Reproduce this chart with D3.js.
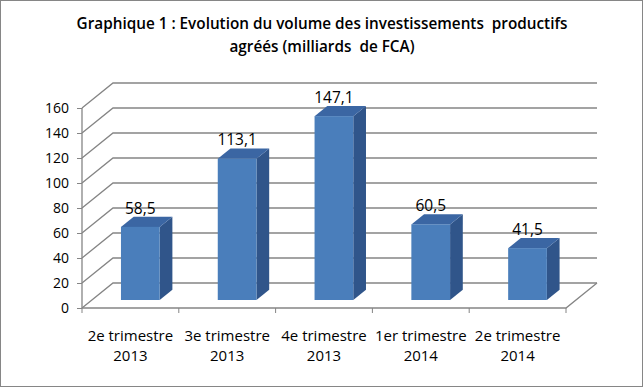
<!DOCTYPE html>
<html>
<head>
<meta charset="utf-8">
<script src="https://cdn.jsdelivr.net/npm/d3@7"></script>
<style>
  body { margin: 0; background: #fff; }
  text { font-family: "Open Sans", sans-serif; fill: #000; white-space: pre; }
</style>
</head>
<body>
<svg id="chart" width="644" height="388"></svg>
<script>
// data
var categories = [["2e trimestre", "2013"], ["3e trimestre", "2013"], ["4e trimestre", "2013"],
                  ["1er trimestre", "2014"], ["2e trimestre", "2014"]]
var values = [58.5, 113.1, 147.1, 60.5, 41.5]
var valueLabels = ["58,5", "113,1", "147,1", "60,5", "41,5"]
var yTicks = [0, 20, 40, 60, 80, 100, 120, 140, 160]
var titleLines = ["Graphique 1 : Evolution du volume des investissements  productifs",
                  "agréés (milliards  de FCA)"]

var svg = d3.select("#chart")

// outer border
svg.append("rect")
    .attr("x", 0.5).attr("y", 0.5)
    .attr("width", 642).attr("height", 386)
    .attr("fill", "#fff").attr("stroke", "#868686")

// title
svg.selectAll("text.title").data(titleLines).enter()
    .append("text")
    .attr("class", "title")
    .attr("x", 322)
    .attr("y", (d, i) => 29 + i * 23)
    .attr("text-anchor", "middle")
    .style("font-weight", "600")
    .style("font-size", "15.3px")
    .text(d => d)

// front plane and depth offset (oblique 3d)
var depth = {x: 31, y: -25}
var x = d3.scaleBand().domain(d3.range(values.length)).range([82, 566])
var y = d3.scaleLinear().domain([0, 160]).range([308, 108])

function proj(px, py, d) { return [px + depth.x * d, py + depth.y * d] }

var grid = "#858585"
var g = svg.append("g")

// back wall gridlines + left wall diagonals
yTicks.forEach(function(v) {
    var a = proj(82, y(v), 0), b = proj(82, y(v), 1), c = proj(566, y(v), 1)
    g.append("path")
        .attr("d", "M" + a + "L" + b + "L" + c)
        .attr("fill", "none").attr("stroke", grid).attr("stroke-width", 1.3)
})

// floor front + right edge
var f1 = proj(566, y(0), 0), f2 = proj(566, y(0), 1)
g.append("path")
    .attr("d", "M82," + y(0) + "L" + f1 + "L" + f2)
    .attr("fill", "none").attr("stroke", grid).attr("stroke-width", 1.3)

// y axis line
g.append("line")
    .attr("x1", 82).attr("x2", 82).attr("y1", y(160)).attr("y2", y(0))
    .attr("stroke", grid).attr("stroke-width", 1.3)

// y ticks and labels
var yAxis = d3.axisLeft(y).tickValues(yTicks).tickSize(5).tickPadding(8)
var ya = svg.append("g").attr("transform", "translate(82,0)").call(yAxis)
ya.select(".domain").remove()
ya.selectAll("line").attr("stroke", grid)
ya.selectAll("text").style("font-size", "14px").attr("fill", "#000").attr("dy", "0.35em")

// x ticks
var xEdges = d3.range(values.length + 1).map(i => 82 + i * x.step())
g.selectAll("line.xt").data(xEdges).enter()
    .append("line")
    .attr("x1", d => d).attr("x2", d => d)
    .attr("y1", y(0)).attr("y2", y(0) + 5)
    .attr("stroke", grid)

// category labels
var cl = svg.selectAll("text.cat").data(categories).enter()
    .append("text")
    .attr("class", "cat")
    .attr("text-anchor", "middle")
    .style("font-size", "15px")
cl.append("tspan")
    .attr("x", (d, i) => x(i) + x.bandwidth() / 2)
    .attr("y", 341)
    .text(d => d[0])
cl.append("tspan")
    .attr("x", (d, i) => x(i) + x.bandwidth() / 2)
    .attr("y", 361)
    .text(d => d[1])

// bars
var barW = x.bandwidth() * 0.4
var d0 = 0.32, d1 = 0.73
var bars = svg.selectAll("g.bar").data(values).enter()
    .append("g").attr("class", "bar")

bars.each(function(v, i) {
    var gb = d3.select(this)
    var cx = x(i) + x.bandwidth() / 2
    var l = cx - barW / 2, r = cx + barW / 2
    var fb = proj(0, y(0), d0)[1], ft = proj(0, y(v), d0)[1]
    var ox = depth.x * d0
    var sx = depth.x * (d1 - d0), sy = depth.y * (d1 - d0)
    var L = l + ox, R = r + ox
    // side
    gb.append("path")
        .attr("d", "M" + R + "," + ft + "L" + (R + sx) + "," + (ft + sy) + "L" + (R + sx) + "," + (fb + sy) + "L" + R + "," + fb + "Z")
        .attr("fill", "#30558a")
    // top
    gb.append("path")
        .attr("d", "M" + L + "," + ft + "L" + (L + sx) + "," + (ft + sy) + "L" + (R + sx) + "," + (ft + sy) + "L" + R + "," + ft + "Z")
        .attr("fill", "#3b66a3")
    // front
    gb.append("rect")
        .attr("x", L).attr("y", ft)
        .attr("width", barW).attr("height", fb - ft)
        .attr("fill", "#4a7ebb")
    // value label
    gb.append("text")
        .attr("x", cx + ox)
        .attr("y", ft + sy - 3)
        .attr("text-anchor", "middle")
        .style("font-size", "15.5px")
        .text(valueLabels[i])
})
</script>
</body>
</html>
